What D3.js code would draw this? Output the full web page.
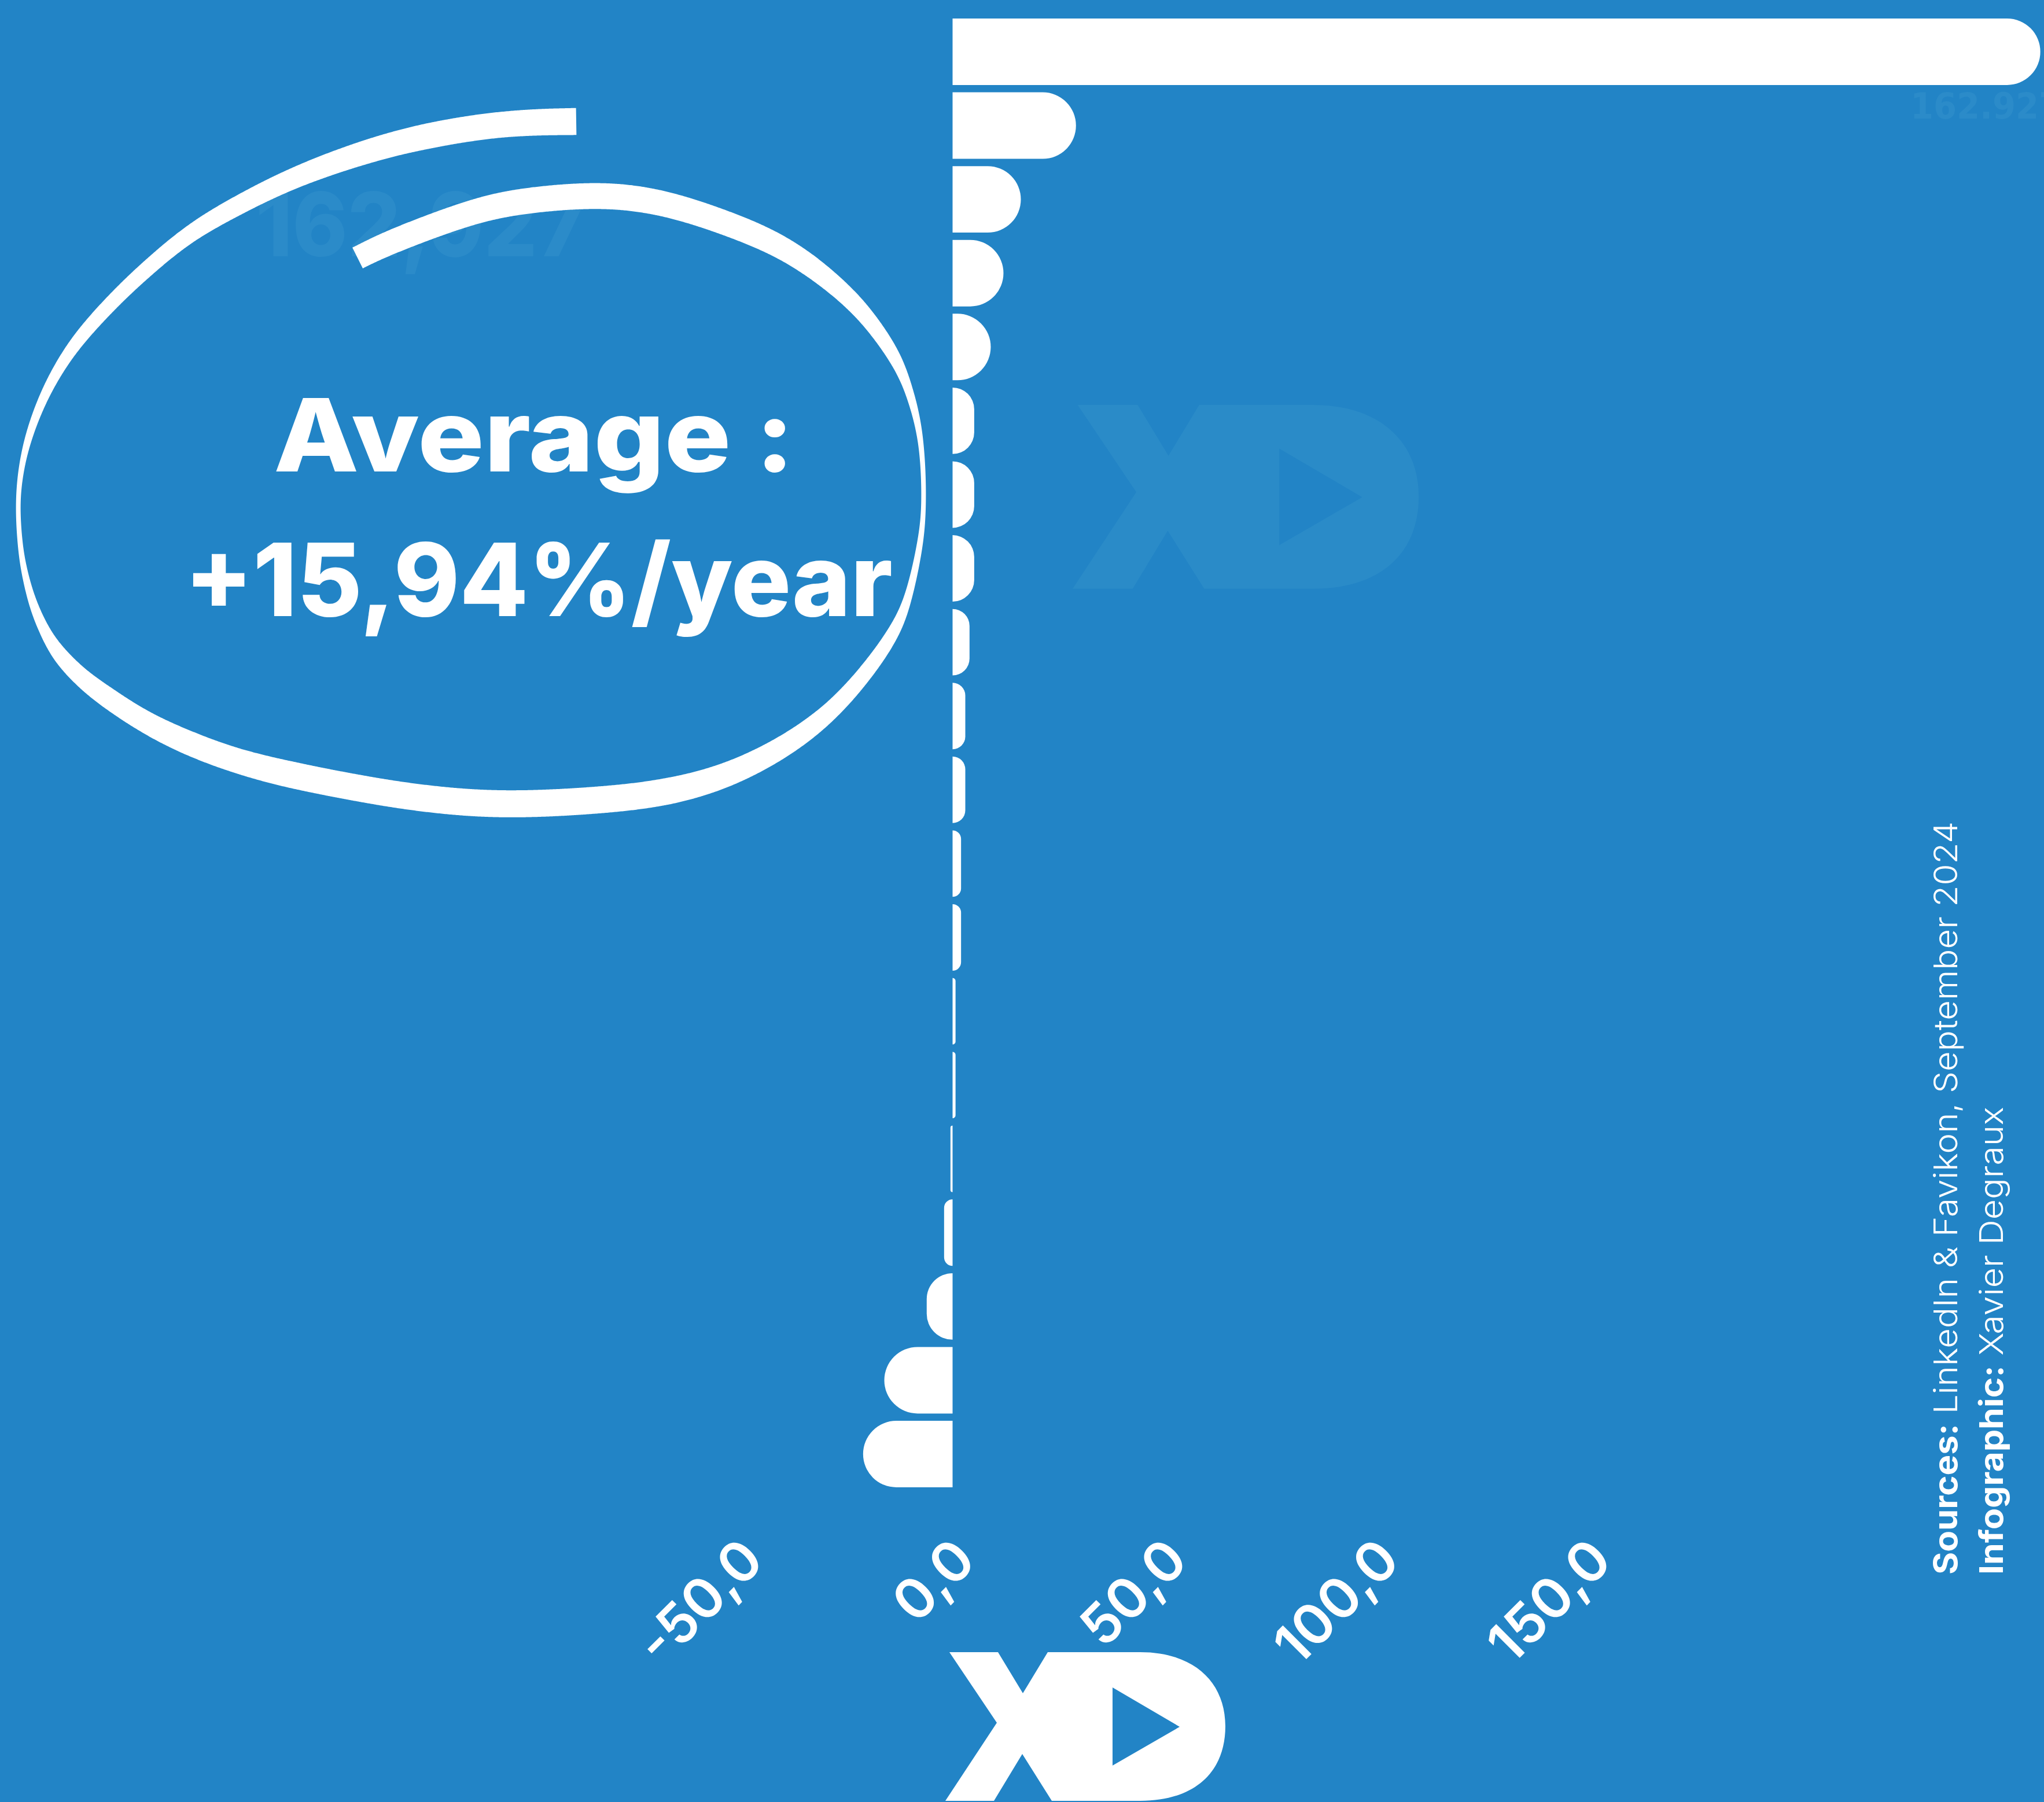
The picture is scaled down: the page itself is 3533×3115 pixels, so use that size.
<!DOCTYPE html>
<html>
<head>
<meta charset="utf-8">
<script src="https://cdn.jsdelivr.net/npm/d3@7"></script>
<style>
  html, body { margin: 0; padding: 0; background: #2284c6; }
  svg { display: block; }
</style>
</head>
<body>
<svg id="canvas" width="3533" height="3115"></svg>
<script>
// ranks (no names shown on the chart)
const categories = ["1","2","3","4","5","6","7","8","9","10","11","12","13","14","15","16","17","18","19","20"]
// yearly growth
const growth = [256.5, 29.1, 16.1, 12.0, 9.0, 5.1, 5.1, 5.1, 4.0, 3.0, 3.0, 2.0, 2.0, 0.7, 0.7, -0.5, -2.0, -6.1, -16.1, -21.1]
const xTicks = [-50, 0, 50, 100, 150]
const topLabel = "162.927"
const ghostLabel = "162,927"
const averageLines = ["Average :", "+15,94%/year"]
const sourceBold = "Sources:"
const sourceText = " LinkedIn & Favikon, September 2024"
const creditBold = "Infographic:"
const creditText = " Xavier Degraux"

const W = 3533, H = 3115
const BG = "#2284c6", GHOST = "#2b8bc9"
const FONT = "Inter, 'Open Sans', 'DejaVu Sans', sans-serif"

const svg = d3.select('#canvas')
svg.append('rect').attr('width', W).attr('height', H).attr('fill', BG)

// xd logo outline, local units (484 x 257)
const logoPath = () => {
    const p = d3.path()
    p.moveTo(7, 0); p.lineTo(91, 0); p.lineTo(134, 71); p.lineTo(177, 0)
    p.lineTo(337, 0)
    p.bezierCurveTo(430, 0, 484, 52, 484, 128)
    p.bezierCurveTo(484, 208, 430, 257, 337, 257)
    p.lineTo(184, 257); p.lineTo(133, 176); p.lineTo(84, 257); p.lineTo(0, 257)
    p.lineTo(89, 122); p.closePath()
    // play triangle hole
    p.moveTo(289, 61); p.lineTo(289, 196); p.lineTo(405, 129); p.closePath()
    return p.toString()
}

// watermark
svg.append('path')
    .attr('d', logoPath())
    .attr('fill-rule', 'evenodd')
    .attr('fill', '#2a8bc8')
    .attr('transform', 'translate(1854,700) scale(1.236)')

// scales
const x = d3.scaleLinear().domain([-50, 150]).range([1280, 2746])
const y = d3.scaleBand().domain(categories).range([32, 2571]).paddingInner(0.099)

const data = categories.map((c, i) => ({cat: c, value: growth[i]}))

const barPath = d => {
    const z = x(0), v = x(d.value), y0 = y(d.cat), h = y.bandwidth()
    const r = Math.min(h / 2, Math.abs(v - z))
    const p = d3.path()
    if (d.value >= 0) {
        p.moveTo(z, y0); p.lineTo(v - r, y0)
        p.arcTo(v, y0, v, y0 + r, r)
        p.lineTo(v, y0 + h - r)
        p.arcTo(v, y0 + h, v - r, y0 + h, r)
        p.lineTo(z, y0 + h)
    } else {
        p.moveTo(z, y0); p.lineTo(v + r, y0)
        p.arcTo(v, y0, v, y0 + r, r)
        p.lineTo(v, y0 + h - r)
        p.arcTo(v, y0 + h, v + r, y0 + h, r)
        p.lineTo(z, y0 + h)
    }
    p.closePath()
    return p.toString()
}

svg.append('g').attr('class', 'bars')
    .selectAll('path')
    .data(data, d => d.cat)
    .enter()
    .append('path')
    .attr('d', barPath)
    .attr('fill', 'white')

// faint value label of the top bar (runs off the edge, as in the original)
svg.append('text')
    .attr('x', 3302)
    .attr('y', 205)
    .attr('font-family', "'Liberation Sans Narrow', 'DejaVu Sans Condensed', sans-serif")
    .attr('font-weight', 700)
    .attr('font-size', 62)
    .attr('textLength', 262)
    .attr('lengthAdjust', 'spacingAndGlyphs')
    .attr('fill', GHOST)
    .text(topLabel)

// x axis, labels only
const fmt = d3.formatLocale({decimal: ",", thousands: ".", grouping: [3], currency: ["", ""], minus: "-"}).format(".1f")
const axis = svg.append('g')
    .attr('transform', 'translate(0,2702)')
    .call(d3.axisBottom(x).tickValues(xTicks).tickFormat(fmt).tickSize(0))
axis.select('.domain').remove()
axis.attr('font-size', null).attr('font-family', null)
axis.selectAll('text')
    .attr('x', 0).attr('y', 0).attr('dy', 0)
    .attr('transform', 'translate(44,0) rotate(-45)')
    .style('text-anchor', 'end')
    .attr('font-family', FONT)
    .attr('font-weight', 600)
    .attr('font-size', 96)
    .attr('fill', 'white')

// bottom logo
svg.append('path')
    .attr('d', logoPath())
    .attr('fill-rule', 'evenodd')
    .attr('fill', 'white')
    .attr('transform', 'translate(1634,2856)')

// ghost number behind the circle
svg.append('text')
    .attr('x', 442)
    .attr('y', 443)
    .attr('font-family', FONT)
    .attr('font-weight', 800)
    .attr('font-size', 153)
    .attr('textLength', 571)
    .attr('lengthAdjust', 'spacingAndGlyphs')
    .attr('fill', GHOST)
    .text(ghostLabel)

// hand drawn circle: centre line [x, y, nib length], drawn with a vertical flat nib
const strokePts = [
    [996,210,46],[871,212,44],[737,234,44],[636,260,42],[509,305,38],[408,356,36],[328,402,34],
    [261,458,34],[208,507,34],[154,564,34],[114,615,34],[77,680,34],[50,750,34],[36,810,34],
    [30,870,34],[34,938,36],[41,985,36],[55,1040,38],[75,1088,38],[100,1130,40],[140,1172,40],
    [188,1208,42],[252,1250,42],[325,1285,44],[408,1316,44],[502,1340,46],[636,1366,46],
    [740,1382,46],[873,1393,46],[1050,1383,46],[1155,1370,46],[1255,1343,44],[1355,1293,42],
    [1437,1232,40],[1500,1160,40],[1544,1097,40],[1570,1040,40],[1592,938,40],[1598,871,40],
    [1594,760,40],[1574,680,40],[1550,620,42],[1506,556,42],[1462,508,42],[1397,455,44],
    [1332,416,44],[1250,383,44],[1150,350,44],[1052,336,44],[947,342,44],[860,354,44],
    [790,375,44],[722,400,44],[660,425,44],[618,446,44]
]
// nib length along the polyline, by distance
const cum = [0]
for (let i = 1; i < strokePts.length; i++) {
    cum.push(cum[i - 1] + Math.hypot(strokePts[i][0] - strokePts[i - 1][0], strokePts[i][1] - strokePts[i - 1][1]))
}
const nibAt = d3.scaleLinear().domain(cum).range(strokePts.map(p => p[2])).clamp(true)

// b-spline smooths the hand-read points
const guide = svg.append('path')
    .attr('d', d3.line().curve(d3.curveBasis)(strokePts.map(p => [p[0], p[1]])))
    .attr('fill', 'none')
const node = guide.node()
const total = node.getTotalLength()
const left = [], right = []
const rmin = 4
for (let s = 0; s <= total; s += 2) {
    const a = node.getPointAtLength(Math.max(0, s - 3))
    const b = node.getPointAtLength(Math.min(total, s + 3))
    const c = node.getPointAtLength(s)
    let tx = b.x - a.x, ty = b.y - a.y
    const l = Math.hypot(tx, ty) || 1
    tx /= l; ty /= l
    const nx = -ty, ny = tx
    const L = nibAt(s / total * cum[cum.length - 1])
    const hw = Math.hypot(rmin, L * Math.abs(tx) / 2)
    left.push([c.x + nx * hw, c.y + ny * hw])
    right.push([c.x - nx * hw, c.y - ny * hw])
}
guide.remove()
svg.append('path')
    .attr('d', d3.line()(left.concat(right.reverse())) + 'Z')
    .attr('fill', 'white')

// average text
const avgPos = [{x: 473, y: 815, len: 900}, {x: 319, y: 1065, len: 1224}]
svg.append('g').selectAll('text')
    .data(averageLines)
    .enter()
    .append('text')
    .attr('x', (d, i) => avgPos[i].x)
    .attr('y', (d, i) => avgPos[i].y)
    .attr('textLength', (d, i) => avgPos[i].len)
    .attr('lengthAdjust', 'spacingAndGlyphs')
    .attr('font-family', FONT)
    .attr('font-weight', 800)
    .attr('font-size', 174)
    .attr('fill', 'white')
    .text(d => d)

// sources, vertical
const credits = [
    {bold: sourceBold, rest: sourceText, x: 3383, len: 1302},
    {bold: creditBold, rest: creditText, x: 3462, len: 809}
]
credits.forEach(c => {
    const t = svg.append('text')
        .attr('transform', `translate(${c.x},2722) rotate(-90)`)
        .attr('font-family', FONT)
        .attr('font-size', 56)
        .attr('fill', 'white')
        .attr('textLength', c.len)
        .attr('lengthAdjust', 'spacingAndGlyphs')
    t.append('tspan').attr('font-weight', 700).text(c.bold)
    t.append('tspan').attr('font-weight', 300).text(c.rest)
})
</script>
</body>
</html>
